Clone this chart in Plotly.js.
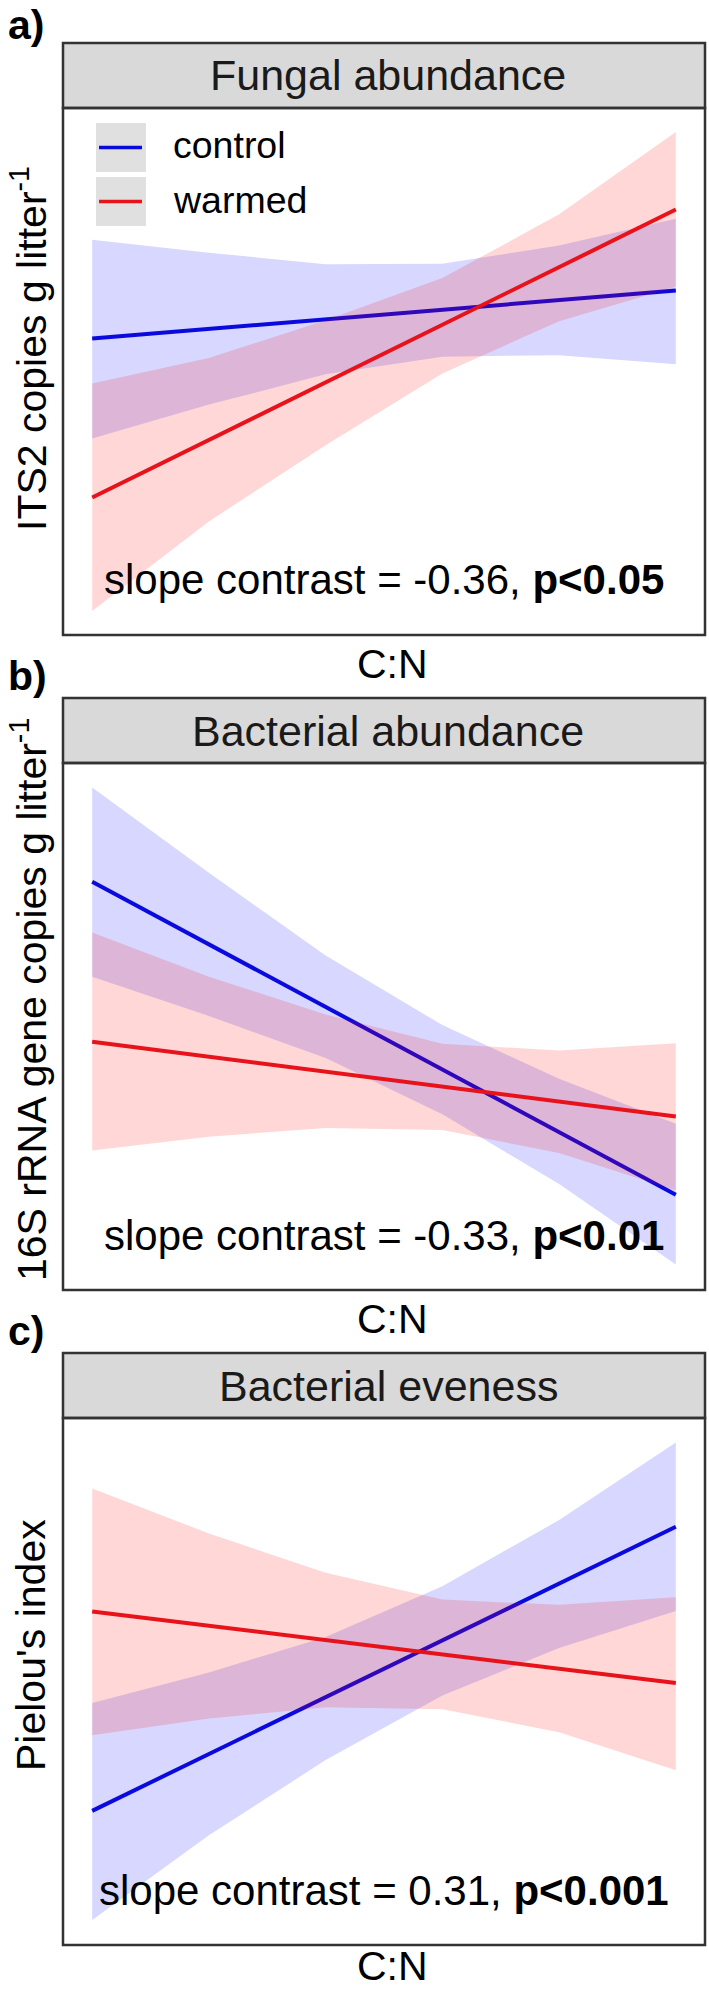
<!DOCTYPE html>
<html>
<head>
<meta charset="utf-8">
<script src="https://cdn.plot.ly/plotly-3.0.1.min.js"></script>
<style>
  html, body { margin: 0; padding: 0; background: #ffffff; }
  #chart { width: 709px; height: 1990px; }
</style>
</head>
<body>
<div id="chart"></div>
<script>
// Fitted C:N relationships (model predictions with 95% bands), on a relative response scale.
const cnGrid = [0, 0.2, 0.4, 0.6, 0.8, 1.0];

// a) Fungal abundance (ITS2 copies)
const fungControlFit = [56.9, 58.9, 60.9, 62.9, 64.9, 66.9];
const fungControlHi  = [77.5, 74.8, 72.4, 72.5, 76.3, 81.9];
const fungControlLo  = [36.0, 43.1, 49.4, 53.1, 53.4, 51.5];
const fungWarmedFit  = [23.7, 35.7, 47.7, 59.8, 71.8, 83.8];
const fungWarmedHi   = [47.5, 52.8, 60.7, 69.5, 82.8, 100.0];
const fungWarmedLo   = [0.0, 18.7, 34.6, 49.6, 60.5, 67.7];

// b) Bacterial abundance (16S rRNA gene copies)
const bactControlFit = [80.2, 67.1, 54.1, 41.0, 28.0, 14.9];
const bactControlHi  = [99.9, 82.1, 64.8, 50.3, 39.1, 29.7];
const bactControlLo  = [60.4, 52.2, 43.4, 31.7, 17.1, 0.3];
const bactWarmedFit  = [46.8, 43.7, 40.6, 37.4, 34.3, 31.2];
const bactWarmedHi   = [69.6, 60.4, 52.5, 46.4, 45.0, 46.5];
const bactWarmedLo   = [24.1, 27.0, 28.8, 28.4, 23.6, 15.8];

// c) Bacterial evenness (Pielou's index)
const evenControlFit = [23.0, 34.9, 46.7, 58.6, 70.4, 82.3];
const evenControlHi  = [45.5, 51.9, 59.3, 69.9, 83.7, 99.9];
const evenControlLo  = [0.2, 17.9, 33.6, 47.1, 57.0, 64.7];
const evenWarmedFit  = [64.6, 61.6, 58.6, 55.7, 52.7, 49.7];
const evenWarmedHi   = [90.3, 80.9, 72.7, 67.1, 66.0, 67.6];
const evenWarmedLo   = [38.8, 42.3, 44.6, 44.2, 39.4, 31.5];

// Labels
const panelTags = ['a)', 'b)', 'c)'];
const panelTitles = ['Fungal abundance', 'Bacterial abundance', 'Bacterial eveness'];
const yTitles = ['ITS2 copies g litter<sup>-1</sup>', '16S rRNA gene copies g litter<sup>-1</sup>', "Pielou's index"];
const xTitle = 'C:N';
const slopeContrasts = [-0.36, -0.33, 0.31];
const pLabels = ['p&lt;0.05', 'p&lt;0.01', 'p&lt;0.001'];
const treatments = ['control', 'warmed'];

const panelData = [
  { control: [fungControlFit, fungControlHi, fungControlLo], warmed: [fungWarmedFit, fungWarmedHi, fungWarmedLo] },
  { control: [bactControlFit, bactControlHi, bactControlLo], warmed: [bactWarmedFit, bactWarmedHi, bactWarmedLo] },
  { control: [evenControlFit, evenControlHi, evenControlLo], warmed: [evenWarmedFit, evenWarmedHi, evenWarmedLo] }
];

// ---- styling and geometry ----
const W = 709, H = 1990;
const FONT = 'Liberation Sans, Arial, Helvetica, sans-serif';
const lineColors = { control: '#0a0ade', warmed: '#e8121a' };
const bandColors = { control: 'rgba(0,0,255,0.155)', warmed: 'rgba(255,0,0,0.155)' };
const border = '#333333';
const stripFill = '#d9d9d9';

const boxLeft = 63, boxRight = 705;
const boxes = [
  { stripTop: 43,   top: 108,  bottom: 635 },
  { stripTop: 698,  top: 763,  bottom: 1290 },
  { stripTop: 1353, top: 1418, bottom: 1945 }
];
const yTitleCenters = [349, 1000, 1645];
const tagCenters = [25, 676, 1331];
const xTitleCenters = [664, 1319, 1966];

const fx = x => x / W;
const fy = y => 1 - y / H;

const traces = [];
const layout = {
  width: W, height: H,
  margin: { l: 0, r: 0, t: 0, b: 0 },
  paper_bgcolor: '#ffffff',
  plot_bgcolor: '#ffffff',
  showlegend: false,
  font: { family: FONT, color: '#000000', size: 41 },
  shapes: [],
  annotations: []
};

boxes.forEach((b, i) => {
  const sfx = i === 0 ? '' : String(i + 1);
  const xa = 'x' + sfx, ya = 'y' + sfx;

  layout['xaxis' + sfx] = {
    domain: [fx(boxLeft), fx(boxRight)], anchor: ya,
    range: [-0.05, 1.05], showticklabels: false, ticks: '',
    showgrid: false, zeroline: false, showline: false, fixedrange: true
  };
  layout['yaxis' + sfx] = {
    domain: [fy(b.bottom), fy(b.top)], anchor: xa,
    range: [-5, 105], showticklabels: false, ticks: '',
    showgrid: false, zeroline: false, showline: false, fixedrange: true
  };

  treatments.forEach(t => {
    const [fit, hi, lo] = panelData[i][t];
    traces.push({
      type: 'scatter', mode: 'lines', xaxis: xa, yaxis: ya,
      x: cnGrid.concat(cnGrid.slice().reverse()),
      y: hi.concat(lo.slice().reverse()),
      fill: 'toself', fillcolor: bandColors[t],
      line: { width: 0 }, hoverinfo: 'skip', showlegend: false
    });
    traces.push({
      type: 'scatter', mode: 'lines', xaxis: xa, yaxis: ya,
      x: cnGrid, y: fit, name: t,
      line: { color: lineColors[t], width: 4 }, showlegend: false
    });
  });

  // facet strip
  layout.shapes.push({
    type: 'rect', xref: 'paper', yref: 'paper', layer: 'above',
    x0: fx(boxLeft), x1: fx(boxRight), y0: fy(b.top), y1: fy(b.stripTop),
    fillcolor: stripFill, line: { color: border, width: 2.5 }
  });
  // panel frame
  layout.shapes.push({
    type: 'rect', xref: 'paper', yref: 'paper', layer: 'above',
    x0: fx(boxLeft), x1: fx(boxRight), y0: fy(b.bottom), y1: fy(b.top),
    fillcolor: 'rgba(0,0,0,0)', line: { color: border, width: 2.5 }
  });

  const cx = fx((boxLeft + boxRight) / 2);
  layout.annotations.push(
    { text: panelTitles[i], xref: 'paper', yref: 'paper', x: fx(388), y: fy((b.stripTop + b.top) / 2),
      xanchor: 'center', yanchor: 'middle', showarrow: false, font: { size: 43, color: '#1a1a1a' } },
    { text: 'slope contrast = ' + slopeContrasts[i].toFixed(2) + ', <b>' + pLabels[i] + '</b>',
      xref: 'paper', yref: 'paper', x: cx, y: fy(b.bottom - 55),
      xanchor: 'center', yanchor: 'middle', showarrow: false, font: { size: 42 } },
    { text: xTitle, xref: 'paper', yref: 'paper', x: fx(392), y: fy(xTitleCenters[i]),
      xanchor: 'center', yanchor: 'middle', showarrow: false, font: { size: 41 } },
    { text: yTitles[i], xref: 'paper', yref: 'paper', x: fx(i === 2 ? 31 : 29), y: fy(yTitleCenters[i]),
      xanchor: 'center', yanchor: 'middle', textangle: -90, showarrow: false, font: { size: 41 } },
    { text: '<b>' + panelTags[i] + '</b>', xref: 'paper', yref: 'paper', x: fx(6), y: fy(tagCenters[i]),
      xanchor: 'left', yanchor: 'middle', showarrow: false, font: { size: 41 } }
  );
});

// legend inside the first panel
const keyTops = [123, 177];
treatments.forEach((t, k) => {
  const top = keyTops[k], mid = top + 24.5;
  layout.shapes.push(
    { type: 'rect', xref: 'paper', yref: 'paper', layer: 'above',
      x0: fx(96), x1: fx(146), y0: fy(top + 49), y1: fy(top),
      fillcolor: '#e0e0e0', line: { width: 0 } },
    { type: 'line', xref: 'paper', yref: 'paper', layer: 'above',
      x0: fx(99), x1: fx(142), y0: fy(mid), y1: fy(mid),
      line: { color: lineColors[t], width: 3.5 } }
  );
  layout.annotations.push({
    text: t, xref: 'paper', yref: 'paper', x: fx(171), y: fy(mid - 2),
    xanchor: 'left', yanchor: 'middle', showarrow: false, font: { size: 37.5 }
  });
});

Plotly.newPlot('chart', traces, layout, { displayModeBar: false, staticPlot: true });
</script>
</body>
</html>
